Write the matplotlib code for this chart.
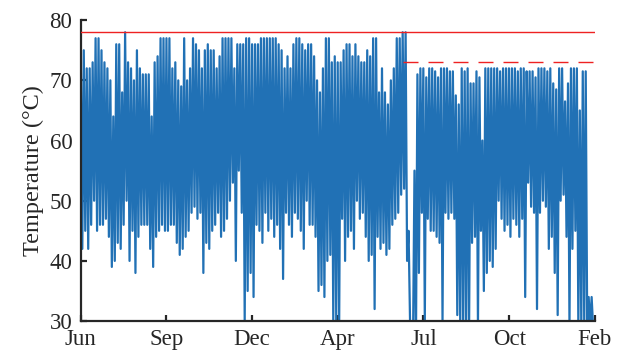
import numpy as np
import matplotlib
matplotlib.use("Agg")
import matplotlib.pyplot as plt

# month labels under the evenly spaced ticks
tick_labels = ["Jun", "Sep", "Dec", "Apr", "Jul", "Oct", "Feb"]
n_days = 611

# upper / lower readings of the temperature trace, one pair every ~3 px
upper = [
    73, 75, 72, 72, 73, 77, 77, 75, 73, 72, 70, 64, 76, 76, 68, 78, 73, 72, 70, 75,
    72, 71, 71, 71, 64, 73, 74, 77, 77,
    77, 77, 72, 73, 70, 69, 77, 70, 72, 77, 76, 75, 72, 75, 76, 75, 75, 72, 74, 77,
    77, 77, 77, 72, 76, 76, 76, 77, 77,
    76, 76, 76, 77, 77, 77, 77, 77, 77, 76, 75, 72, 74, 72, 76, 77, 77, 76, 75, 76,
    76, 74, 70, 68, 72, 77, 77, 73, 74,
    73, 73, 75, 76, 76, 74, 76, 74, 73, 73, 75, 74, 77, 77, 68, 72, 68, 66, 70, 72,
    77, 77, 78, 78, 45, 28, 55, 71, 72,
    72, 70.5, 72, 72, 71.5, 70.5, 72, 72, 72, 71.5, 71.5, 67.5, 66, 72, 71.5, 72,
    69.5, 69.5, 71.5, 70.5, 60, 72, 72, 72, 72, 72, 71.5, 72, 72,
    72, 72, 72, 71.5, 72, 72, 71.5, 71.5, 71.5, 70.5, 72, 72, 72, 71.5, 72, 69.5,
    68.5, 72, 72, 66.5, 69.5, 72, 72, 72, 65, 71.5, 71.5, 34, 34,
]
lower = [
    42, 45, 42, 46, 50, 45, 46, 46, 47, 44, 39, 40, 43, 42, 46, 50, 40, 45, 38, 44,
    46, 46, 46, 42, 39, 44, 45, 46, 45,
    45, 46, 46, 43, 41, 42, 44, 45, 48, 49, 47, 48, 38, 43, 42, 45, 46, 48, 44, 45,
    47, 50, 53, 40, 55, 48, 30, 35, 38,
    34, 46, 45, 43, 48, 45, 47, 44, 46, 42, 37, 48, 46, 44, 48, 47, 45, 42, 50, 46,
    46, 44, 35, 36, 34, 40, 41, 30, 30,
    30, 47, 40, 44, 45, 42, 50, 47, 48, 44, 40, 41, 32, 44, 42, 43, 41, 42, 46, 47,
    48, 51, 52, 40, 30, 26, 26, 38, 48,
    30, 47, 45, 45, 44, 43, 30, 48, 47, 48, 47, 31, 29, 29, 29, 29, 43, 44, 29, 45,
    35, 38, 40, 39, 42, 50, 47, 45, 46,
    44, 47, 46, 44, 47, 34, 53, 49, 48, 32, 48, 50, 49, 42, 44, 38, 31, 50, 51, 44,
    29, 42, 45, 29, 29, 29, 29, 29, 29,
]

upper_limit = 78
second_limit = 73
second_limit_start = 383  # day the dashed limit begins

temps = np.column_stack([upper, lower]).ravel()
days = np.linspace(0, n_days - 2, len(temps))

plt.rcParams["font.family"] = ["Liberation Serif", "DejaVu Serif"]

fig = plt.figure(figsize=(6.17, 3.54), dpi=100)
ax = fig.add_axes([0.131, 0.093, 0.833, 0.850])

ax.plot(days, temps, color="#2171b5", lw=1.6, zorder=2)
ax.axhline(upper_limit, color="#ee2222", lw=1.0, zorder=3)
ax.plot([second_limit_start, n_days - 2], [second_limit, second_limit],
        color="#ee2222", lw=1.0, dashes=(10.8, 7.2), zorder=3)

ax.set_xlim(0, n_days)
ax.set_ylim(30, 80)
ax.set_xticks(np.linspace(0, n_days, len(tick_labels)))
ax.set_xticklabels(tick_labels)
ax.set_yticks([30, 40, 50, 60, 70, 80])
ax.set_ylabel("Temperature (\u00b0C)", fontsize=17.5, color="#262626", labelpad=4)

for side in ["top", "right"]:
    ax.spines[side].set_visible(False)
for side in ["left", "bottom"]:
    ax.spines[side].set_linewidth(1.6)
    ax.spines[side].set_color("#262626")
ax.tick_params(direction="in", length=4.5, width=1.6, colors="#262626",
               labelsize=16.5, pad=6)

fig.savefig("out.png", dpi=100)
